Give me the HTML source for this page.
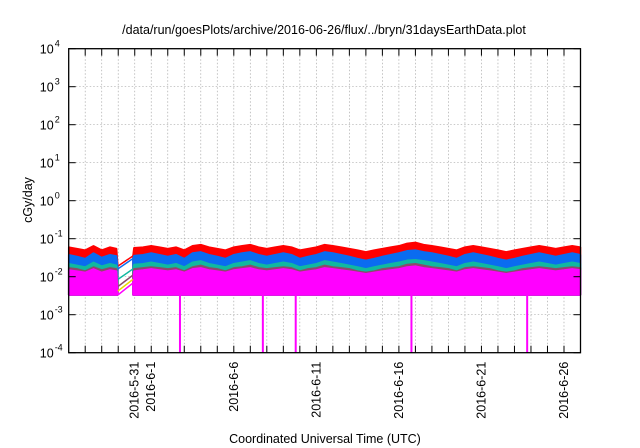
<!DOCTYPE html>
<html><head><meta charset="utf-8">
<style>
html,body{margin:0;padding:0;background:#fff;}
svg{display:block;font-family:"Liberation Sans",Arial,sans-serif;}
</style></head>
<body>
<svg id="chart" width="640" height="448" viewBox="0 0 640 448">
<text x="324" y="34" font-size="12.5" text-anchor="middle">/data/run/goesPlots/archive/2016-06-26/flux/../bryn/31daysEarthData.plot</text>
<text transform="translate(32,200) rotate(-90)" font-size="12.5" text-anchor="middle">cGy/day</text>
<text x="325" y="443" font-size="12.5" text-anchor="middle">Coordinated Universal Time (UTC)</text>
<g id="grid"></g>
<g id="series"></g>
<g id="axes"></g>
</svg>
<script>
// ---- data ----
const times = [0,0.5,1,1.5,2,2.5,2.9,2.98,
 3.89,3.95,4.5,5,5.5,6,6.5,7,7.5,8,8.5,9,9.5,10,10.5,11,11.5,12,12.5,13,13.5,14,14.5,15,15.5,16,16.5,17,17.5,18,18.5,19,19.5,20,20.5,21,21.5,22,22.5,23,23.5,24,24.5,25,25.5,26,26.5,27,27.5,28,28.5,29,29.5,30,30.5,31];
const redVals = [0.060,0.055,0.050,0.065,0.050,0.060,0.055,0.019,
 0.035,0.058,0.060,0.065,0.060,0.055,0.060,0.050,0.065,0.070,0.060,0.055,0.050,0.060,0.065,0.070,0.060,0.055,0.060,0.065,0.060,0.050,0.055,0.060,0.070,0.065,0.060,0.055,0.050,0.045,0.050,0.055,0.060,0.065,0.075,0.080,0.070,0.065,0.060,0.055,0.050,0.060,0.065,0.060,0.055,0.050,0.045,0.050,0.055,0.060,0.065,0.060,0.055,0.060,0.065,0.060];
const blueVals = [0.038,0.034,0.030,0.042,0.032,0.038,0.035,0.016,
 0.030,0.036,0.038,0.042,0.038,0.034,0.038,0.030,0.042,0.045,0.038,0.034,0.030,0.038,0.042,0.045,0.038,0.034,0.038,0.042,0.038,0.030,0.034,0.038,0.045,0.042,0.038,0.034,0.030,0.027,0.030,0.034,0.038,0.042,0.048,0.050,0.045,0.042,0.038,0.034,0.030,0.038,0.042,0.038,0.034,0.030,0.027,0.030,0.034,0.038,0.042,0.038,0.034,0.038,0.042,0.038];
const tealVals = [0.022,0.020,0.018,0.024,0.019,0.022,0.020,0.0085,
 0.016,0.021,0.022,0.024,0.022,0.020,0.022,0.018,0.024,0.026,0.022,0.020,0.018,0.022,0.024,0.026,0.022,0.020,0.022,0.024,0.022,0.018,0.020,0.022,0.026,0.024,0.022,0.020,0.018,0.016,0.018,0.020,0.022,0.024,0.027,0.028,0.026,0.024,0.022,0.020,0.018,0.022,0.024,0.022,0.020,0.018,0.016,0.018,0.020,0.022,0.024,0.022,0.020,0.022,0.024,0.022];
const brownVals = [0.017,0.016,0.014,0.018,0.015,0.017,0.016,0.0055,
 0.011,0.016,0.017,0.018,0.017,0.016,0.017,0.014,0.018,0.020,0.017,0.016,0.014,0.017,0.018,0.020,0.017,0.016,0.017,0.018,0.017,0.014,0.016,0.017,0.020,0.018,0.017,0.016,0.014,0.013,0.014,0.016,0.017,0.018,0.021,0.022,0.020,0.018,0.017,0.016,0.014,0.017,0.018,0.017,0.016,0.014,0.013,0.014,0.016,0.017,0.018,0.017,0.016,0.017,0.018,0.017];
const magentaVals = [0.015,0.014,0.013,0.016,0.013,0.015,0.014,0.0033,
 0.0068,0.014,0.015,0.016,0.015,0.014,0.015,0.013,0.016,0.017,0.015,0.014,0.013,0.015,0.016,0.017,0.015,0.014,0.015,0.016,0.015,0.013,0.014,0.015,0.017,0.016,0.015,0.014,0.013,0.012,0.013,0.014,0.015,0.016,0.018,0.019,0.017,0.016,0.015,0.014,0.013,0.015,0.016,0.015,0.014,0.013,0.012,0.013,0.014,0.015,0.016,0.015,0.014,0.015,0.016,0.015];
const magentaFloor = 0.0033;
const dropoutDays = [6.74,11.76,13.75,20.76,27.77];
const yTickExps = [-4,-3,-2,-1,0,1,2,3,4];
const xLabelDays = [4,5,10,15,20,25,30];
const xLabels = ["2016-5-31","2016-6-1","2016-6-6","2016-6-11","2016-6-16","2016-6-21","2016-6-26"];
const dayCount = 31;

// ---- layout ----
const L=68.7,R=580.5,T=48.7,B=352.7;
const xS = d => L + (R-L)*d/dayCount;
const yS = v => T + (4 - Math.log10(v))*(B-T)/8;
const NS="http://www.w3.org/2000/svg";
function mk(tag, attrs, parent){const e=document.createElementNS(NS,tag);for(const k in attrs)e.setAttribute(k,attrs[k]);parent.appendChild(e);return e;}
const grid=document.getElementById('grid'), axes=document.getElementById('axes'), ser=document.getElementById('series');

for(let d=1; d<dayCount; d++){
  const g=mk('line',{x1:xS(d),x2:xS(d),y1:T,y2:B,stroke:'#aaa','stroke-width':0.7,'stroke-dasharray':'1.5,2'},grid);
  
  
}
yTickExps.forEach(e=>{
  const y=yS(Math.pow(10,e));
  if(e>-4 && e<4){
    const g=mk('line',{x1:L,x2:R,y1:y,y2:y,stroke:'#aaa','stroke-width':0.7,'stroke-dasharray':'1.5,2'},grid);
    
    
  }
  const tk=mk('line',{x1:L,x2:L+7,y1:y,y2:y,stroke:'#000','stroke-width':1},axes);
  
  
  mk('line',{x1:R,x2:R-7,y1:y,y2:y,stroke:'#000','stroke-width':1},axes);
  const t=mk('text',{x:L-15,y:y+5,'font-size':12.5,'text-anchor':'end'},axes);
  t.textContent='10';
  
  
  const s=mk('text',{x:L-14,y:y-2,'font-size':9,'text-anchor':'start'},axes);
  s.textContent=String(e);
  
  
});

const segs=[]; let cur=[0];
for(let i=1;i<times.length;i++){ if(times[i]-times[i-1]>0.6){segs.push(cur);cur=[i];} else cur.push(i); }
segs.push(cur);
const layers=[['red',redVals,'#ff0000'],['blue',blueVals,'#0a6cf0'],['teal',tealVals,'#10b8a0'],['brown',brownVals,'#8a4a6a'],['magenta',magentaVals,'#ff00ff']];
layers.forEach(([nm,vals,col])=>{
  segs.forEach(sg=>{
    let d='M'+xS(times[sg[0]])+','+yS(magentaFloor);
    sg.forEach(i=>{d+=' L'+xS(times[i]).toFixed(1)+','+yS(vals[i]).toFixed(1);});
    d+=' L'+xS(times[sg[sg.length-1]])+','+yS(magentaFloor)+' Z';
    const p=mk('path',{d:d,fill:col,stroke:col,'stroke-width':1.5,'stroke-linejoin':'bevel'},ser);
    
    
  });
  for(let k=1;k<segs.length;k++){
    const a=segs[k-1][segs[k-1].length-1], b=segs[k][0];
    const ln=mk('line',{x1:xS(times[a]),y1:yS(vals[a]),x2:xS(times[b]),y2:yS(vals[b]),stroke:col,'stroke-width':1.5},ser);
    
    
  }
});
{
  const a=segs[0][segs[0].length-1], b=segs[1][0];
  const ln=mk('line',{x1:xS(times[a]),y1:yS(0.0042),x2:xS(times[b]),y2:yS(0.0085),stroke:'#e8d800','stroke-width':1.5},ser);
  
  
}
dropoutDays.forEach(d=>{
  const ln=mk('line',{x1:xS(d),x2:xS(d),y1:yS(magentaFloor),y2:B,stroke:'#ff00ff','stroke-width':2},ser);
  
  
});

for(let d=1; d<dayCount; d++){
  const tk=mk('line',{x1:xS(d),x2:xS(d),y1:B,y2:B-7,stroke:'#000','stroke-width':1},axes);
  
  
  mk('line',{x1:xS(d),x2:xS(d),y1:T,y2:T+7,stroke:'#000','stroke-width':1},axes);
}
xLabelDays.forEach((d,i)=>{
  const x=xS(d)+4, y=B+9;
  const t=mk('text',{transform:'translate('+x+','+y+') rotate(-90)','font-size':12.5,'text-anchor':'end'},axes);
  t.textContent=xLabels[i];
  
  
});
const fr=mk('rect',{x:L,y:T,width:R-L,height:B-T,fill:'none',stroke:'#000','stroke-width':1.3},axes);


</script>
</body></html>
